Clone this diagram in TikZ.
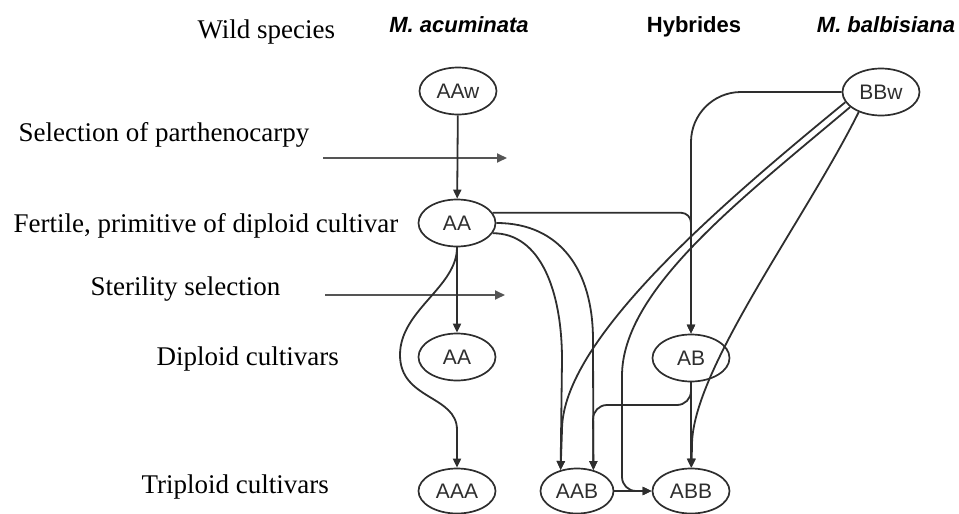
\documentclass[tikz,border=0pt]{standalone}
\usepackage{fontspec}
\setmainfont{Liberation Serif}
\setsansfont{Liberation Sans}
\usetikzlibrary{arrows.meta, shapes.geometric}
\definecolor{inkOne}{HTML}{000000}
\definecolor{inkTwo}{HTML}{2E2E2E}
\definecolor{inkThree}{HTML}{555555}
\tikzset{
  geno/.style={ellipse, draw=inkTwo, line width=1.7pt, minimum width=77pt, minimum height=47pt, inner sep=0pt,
    font=\sffamily\fontsize{21}{21}\selectfont, text=inkTwo},
  row/.style={anchor=base west, font=\fontsize{27}{30}\selectfont, text=inkOne},
  head/.style={anchor=base, font=\sffamily\bfseries\fontsize{22}{24}\selectfont, text=inkOne},
  arr/.style={-{Triangle[length=9pt, width=8pt]}, draw=inkTwo, line width=1.8pt},
  sel/.style={-{Triangle[length=10pt, width=9pt]}, draw=inkThree, line width=1.8pt},
}

\begin{document}
\begin{tikzpicture}[x=1pt, y=-1pt]
  \useasboundingbox (0,0) rectangle (959,514);
  % ---- row labels on the left
  \node[row] (wild) at (194,38) {Wild species};
  \node[row] (parth) at (15,141) {Selection of parthenocarpy};
  \node[row] (fert) at (10,232) {Fertile, primitive of diploid cultivar};
  \node[row] (steril) at (87,295) {Sterility selection};
  \node[row] (dipl) at (153,365) {Diploid cultivars};
  \node[row] (tripl) at (138,493) {Triploid cultivars};
  % ---- column heads
  \node[head] (acum) at (459,32) {\itshape M. acuminata};
  \node[head] (hyb) at (694,32) {Hybrides};
  \node[head] (balb) at (886,32) {\itshape M. balbisiana};
  % ---- selection steps
  \coordinate (pA) at (323,158);
  \coordinate (pB) at (507,158);
  \coordinate (sA) at (325,295);
  \coordinate (sB) at (505,295);
  \draw[sel] (pA) -- (pB);
  \draw[sel] (sA) -- (sB);
  % ---- genomes
  \node[geno] (AAw) at (458,91) {AAw};
  \node[geno] (BBw) at (881,92) {BBw};
  \node[geno] (AAf) at (457,223) {AA};
  \node[geno] (AAd) at (457,357) {AA};
  \node[geno] (AB) at (691,358) {AB};
  \node[geno, minimum height=45pt] (AAA) at (457,491) {AAA};
  \node[geno, minimum width=73pt, minimum height=45pt] (AAB) at (577,491) {AAB};
  \node[geno, minimum height=45pt] (ABB) at (691,491) {ABB};
  % ---- acuminata line
  \draw[arr] (AAw) -- (AAf);
  \draw[arr] (AAf) -- (AAd);
  \draw[arr] (AAf.south) .. controls +(0,40) and +(0,-45) .. (400,355) .. controls +(0,45) and +(0,-35) .. (457,430) -- (AAA);
  % ---- crosses
  \draw[arr, rounded corners=10pt] (AAf.16) -| (AB);
  \draw[arr] (AAf.east) .. controls (560,223) and (593,270) .. (593,340) -- (AAB.52);
  \draw[arr] (AAf.-16) .. controls (540,233) and (562,290) .. (562,360) -- (AAB.128);
  \draw[arr, rounded corners=50pt] (BBw.west) -| (AB);
  \draw[arr] (BBw.196) .. controls (720,205) and (562,340) .. (562,430) -- (AAB.128);
  \draw[arr, rounded corners=14pt] (BBw.206) .. controls (740,200) and (622,290) .. (622,390) |- (ABB);
  \draw[arr] (BBw.222) .. controls (805,220) and (692,370) .. (692,445) -- (ABB);
  \draw[arr, rounded corners=14pt] (AB.south) |- (593,405) -- (AAB.52);
  \draw[arr] (AB) -- (ABB);
  \draw[arr] (AAB) -- (ABB);
\end{tikzpicture}
\end{document}
